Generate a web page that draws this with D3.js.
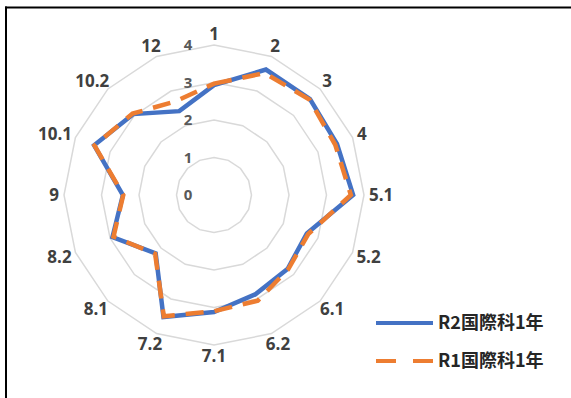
<!DOCTYPE html>
<html>
<head>
<meta charset="utf-8">
<script src="https://cdn.jsdelivr.net/npm/d3@7"></script>
<style>
  html, body { margin: 0; padding: 0; background: #fff; }
  svg { display: block; }
</style>
</head>
<body>
<svg id="chart" width="571" height="398"></svg>
<script>
const categories = ["1","2","3","4","5.1","5.2","6.1","6.2","7.1","7.2","8.1","8.2","9","10.1","10.2","12"];
const seriesNames = ["R2国際科1年", "R1国際科1年"];
const r2Values = [2.93, 3.62, 3.62, 3.55, 3.71, 2.68, 2.78, 2.87, 3.12, 3.52, 2.20, 2.93, 2.43, 3.46, 3.05, 2.42];
const r1Values = [2.97, 3.52, 3.60, 3.50, 3.65, 2.72, 2.80, 3.05, 3.10, 3.50, 2.22, 2.90, 2.42, 3.45, 3.07, 2.70];
const ringTicks = [0, 1, 2, 3, 4];

const svg = d3.select("#chart");
const W = 571, H = 398;
const cx = 214, cy = 195, R = 150;

// frame (only top and left edges visible in the crop)
svg.append("line").attr("x1", 5).attr("x2", W).attr("y1", 7.5).attr("y2", 7.5)
  .attr("stroke", "#000").attr("stroke-width", 2);
svg.append("line").attr("x1", 6).attr("x2", 6).attr("y1", 6.5).attr("y2", H)
  .attr("stroke", "#000").attr("stroke-width", 2);

const g = svg.append("g").attr("transform", `translate(${cx},${cy})`);

const rScale = d3.scaleLinear().domain([0, 4]).range([0, R]);
const aScale = d3.scaleLinear().domain([0, categories.length]).range([0, 2 * Math.PI]);
const ang = c => aScale(categories.indexOf(c));

const radial = d3.lineRadial()
  .angle(d => ang(d.c))
  .radius(d => rScale(d.v))
  .curve(d3.curveLinearClosed);

// grid rings
ringTicks.filter(t => t > 0).forEach(t => {
  g.append("path")
    .attr("d", radial(categories.map(c => ({c, v: t}))))
    .attr("fill", "none")
    .attr("stroke", "#d9d9d9")
    .attr("stroke-width", 1.5);
});

// ring labels
g.selectAll("text.ring").data(ringTicks).join("text")
  .attr("class", "ring")
  .attr("x", -26)
  .attr("y", d => -rScale(d))
  .attr("dy", "0.36em")
  .attr("text-anchor", "middle")
  .attr("font-family", "'Open Sans', sans-serif")
  .attr("font-weight", 700)
  .attr("font-size", 15)
  .attr("fill", "#595959")
  .text(d => d);

// series
const series = [
  {name: seriesNames[0], values: r2Values, color: "#4472C4", dash: null},
  {name: seriesNames[1], values: r1Values, color: "#ED7D31", dash: "18,11"}
];
series.forEach(s => {
  g.append("path")
    .attr("d", radial(categories.map((c, i) => ({c, v: s.values[i]}))))
    .attr("fill", "none")
    .attr("stroke", s.color)
    .attr("stroke-width", 4.5)
    .attr("stroke-linejoin", "miter")
    .attr("stroke-dasharray", s.dash);
});

// category labels
const labels = g.selectAll("text.cat").data(categories).join("text")
  .attr("class", "cat")
  .attr("text-anchor", "middle")
  .attr("font-family", "'Open Sans', sans-serif")
  .attr("font-weight", 700)
  .attr("font-size", 17)
  .attr("fill", "#404040")
  .text(d => d);
labels.each(function(d) {
  const bb = this.getBBox();
  const a = ang(d);
  const s = Math.sin(a), c = Math.cos(a);
  const rr = R + 5;
  const x = rr * s + (bb.width / 2) * s;
  const y = -rr * c - 6 * c;
  d3.select(this).attr("x", x).attr("y", y).attr("dy", "0.36em");
});

// legend
const legend = svg.append("g");
series.forEach((s, i) => {
  const y = 323 + i * 38;
  legend.append("line")
    .attr("x1", 376).attr("x2", 433).attr("y1", y).attr("y2", y)
    .attr("stroke", s.color).attr("stroke-width", 4)
    .attr("stroke-dasharray", s.dash ? "20,17" : null);
  legend.append("text")
    .attr("x", 438).attr("y", y).attr("dy", "0.36em")
    .attr("font-family", "'Noto Sans CJK JP', sans-serif")
    .attr("font-weight", 700)
    .attr("font-size", 18)
    .attr("fill", "#262626")
    .text(s.name);
});
</script>
</body>
</html>
